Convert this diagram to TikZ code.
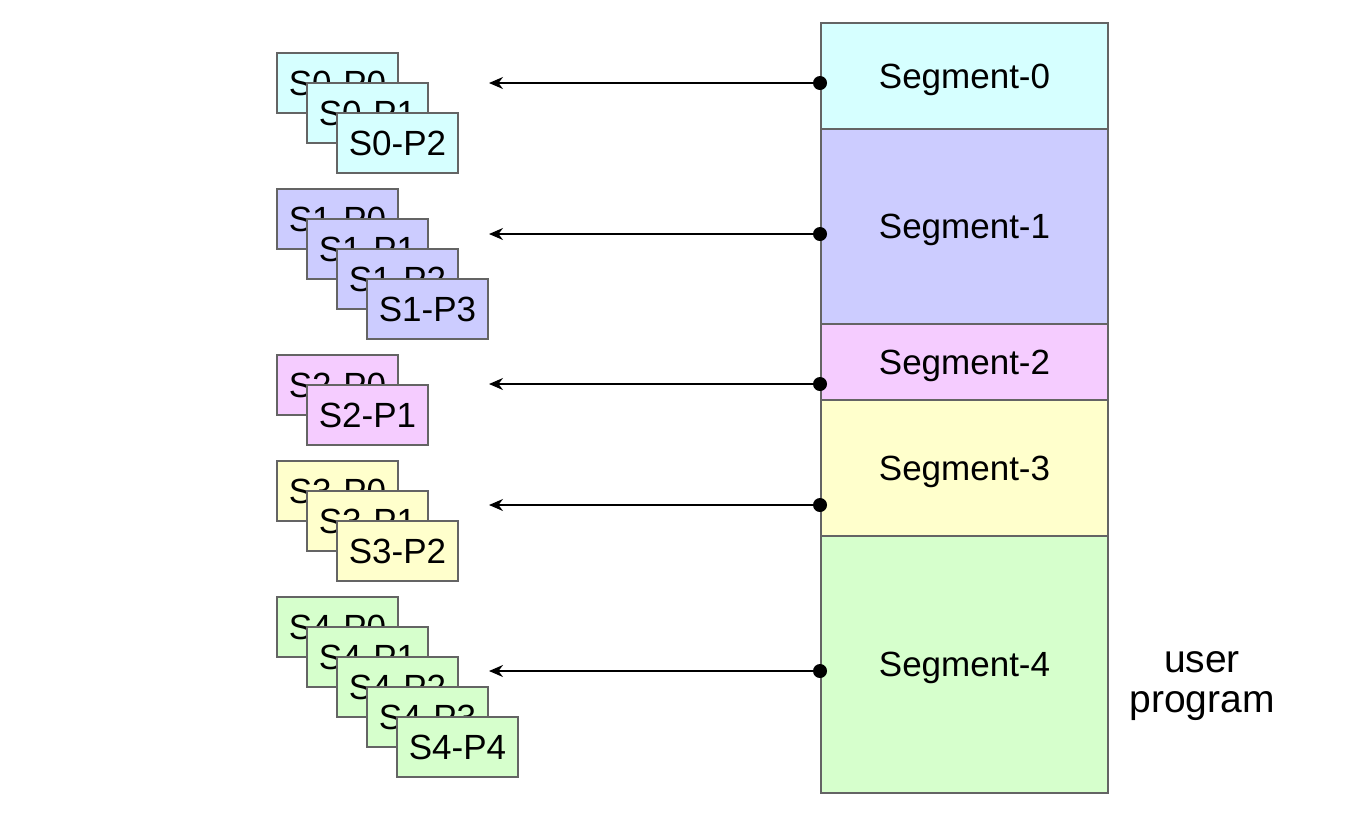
\documentclass[tikz,border=0pt]{standalone}
\usepackage{fontspec}
\setmainfont{Liberation Sans}
\usetikzlibrary{arrows.meta}
\definecolor{cS0}{RGB}{214,255,255}
\definecolor{cS1}{RGB}{204,204,255}
\definecolor{cS2}{RGB}{245,204,255}
\definecolor{cS3}{RGB}{255,255,204}
\definecolor{cS4}{RGB}{214,255,204}
\definecolor{edge}{RGB}{100,100,100}
\tikzset{
  pagebox/.style={draw=edge, line width=1pt, anchor=north west, inner sep=0pt,
    minimum width=60.5pt, minimum height=30pt, font=\fontsize{17.5}{21}\selectfont},
  segbox/.style={draw=edge, line width=1pt, anchor=north west, inner sep=0pt,
    text depth=0pt, minimum width=143.5pt, font=\fontsize{17.5}{21}\selectfont},
  ptr/.style={line width=0.8pt, -{Stealth[length=7pt,width=6pt]}},
  dotmark/.style={circle, fill=black, inner sep=0pt, minimum size=7pt}
}
\begin{document}
\begin{tikzpicture}[x=0.5pt,y=-0.5pt]
\useasboundingbox (0,0) rectangle (1352,826);
% segments
\node[segbox, fill=cS0, minimum height=53pt] (seg0) at (820,22) {Segment-0};
\node[segbox, fill=cS1, minimum height=97.5pt] (seg1) at (820,128) {Segment-1};
\node[segbox, fill=cS2, minimum height=38pt] (seg2) at (820,323) {Segment-2};
\node[segbox, fill=cS3, minimum height=68pt] (seg3) at (820,399) {Segment-3};
\node[segbox, fill=cS4, minimum height=128.5pt] (seg4) at (820,535) {Segment-4};
\node[font=\fontsize{19.5}{20}\selectfont, align=center] (lbl) at (1202,686) {user\\program};
% pages S0
\node[pagebox, fill=cS0] (p00) at (276,52) {S0-P0};
\node[pagebox, fill=cS0] (p01) at (306,82) {S0-P1};
\node[pagebox, fill=cS0] (p02) at (336,112) {S0-P2};
% S1
\node[pagebox, fill=cS1] (p10) at (276,188) {S1-P0};
\node[pagebox, fill=cS1] (p11) at (306,218) {S1-P1};
\node[pagebox, fill=cS1] (p12) at (336,248) {S1-P2};
\node[pagebox, fill=cS1] (p13) at (366,278) {S1-P3};
% S2
\node[pagebox, fill=cS2] (p20) at (276,354) {S2-P0};
\node[pagebox, fill=cS2] (p21) at (306,384) {S2-P1};
% S3
\node[pagebox, fill=cS3] (p30) at (276,460) {S3-P0};
\node[pagebox, fill=cS3] (p31) at (306,490) {S3-P1};
\node[pagebox, fill=cS3] (p32) at (336,520) {S3-P2};
% S4
\node[pagebox, fill=cS4] (p40) at (276,596) {S4-P0};
\node[pagebox, fill=cS4] (p41) at (306,626) {S4-P1};
\node[pagebox, fill=cS4] (p42) at (336,656) {S4-P2};
\node[pagebox, fill=cS4] (p43) at (366,686) {S4-P3};
\node[pagebox, fill=cS4] (p44) at (396,716) {S4-P4};
% pointers
\foreach \i/\y in {0/83,1/234,2/384,3/505,4/671}{
  \coordinate (a\i) at (820,\y);
  \coordinate (t\i) at (489,\y);
  \draw[ptr] (a\i) -- (t\i);
  \node[dotmark] (d\i) at (a\i) {};
}
\end{tikzpicture}
\end{document}
